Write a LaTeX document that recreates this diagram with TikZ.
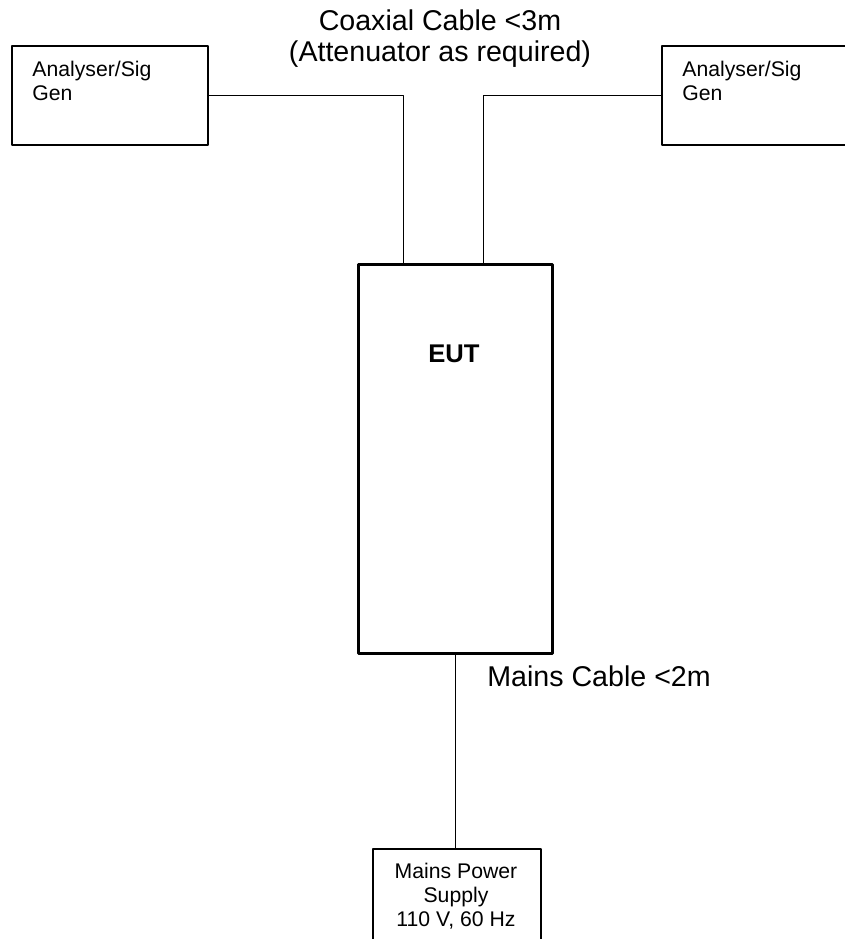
\documentclass[tikz,border=0pt]{standalone}
\usepackage{fontspec}
\setmainfont{Liberation Sans}
\begin{document}
\begin{tikzpicture}[x=0.5pt,y=-0.5pt,line cap=round,line join=round]
	\tikzset{
		unitbox/.style={draw,line width=1pt,anchor=north west,inner sep=0pt},
		cable/.style={line width=0.75pt},
		smalltext/.style={font=\fontsize{10.6}{11.6}\selectfont,inner sep=0pt},
		bigtext/.style={font=\fontsize{14.3}{15.5}\selectfont,inner sep=0pt}
	}
	\useasboundingbox (0,0) rectangle (845,939);
	\clip (0,0) rectangle (845,939);

	% instruments and EUT
	\node[unitbox,minimum width=98pt,minimum height=49.5pt] (lgen) at (11,45) {};
	\node[unitbox,minimum width=98pt,minimum height=49.5pt] (rgen) at (661,45) {};
	\node[unitbox,line width=1.7pt,minimum width=97pt,minimum height=194.5pt] (eut) at (357,263) {};
	\node[unitbox,minimum width=84pt,minimum height=55pt] (mains) at (372,848) {};

	% texts (base = last line)
	\node[smalltext,align=left,anchor=base west] (lgentext) at (32,100) {Analyser/Sig\\Gen};
	\node[smalltext,align=left,anchor=base west] (rgentext) at (682,100) {Analyser/Sig\\Gen};
	\node[font=\fontsize{12.8}{14}\selectfont\bfseries,inner sep=0pt,anchor=base] (euttext) at (454,362) {EUT};
	\node[smalltext,align=center,anchor=base,font=\fontsize{10.6}{12}\selectfont] (mainstext) at (456,926) {Mains Power\\Supply\\110 V, 60 Hz};
	\node[bigtext,align=center,anchor=base] (coaxlabel) at (440,61) {Coaxial Cable <3m\\(Attenuator as required)};
	\node[bigtext,anchor=base west] (mainslabel) at (487,686) {Mains Cable <2m};

	% cables
	\draw[cable] (lgen.east) -| ([xshift=-26pt]eut.north);
	\draw[cable] (rgen.west) -| ([xshift=14pt]eut.north);
	\draw[cable] (eut.south) -- (eut.south |- mains.north);
\end{tikzpicture}
\end{document}
